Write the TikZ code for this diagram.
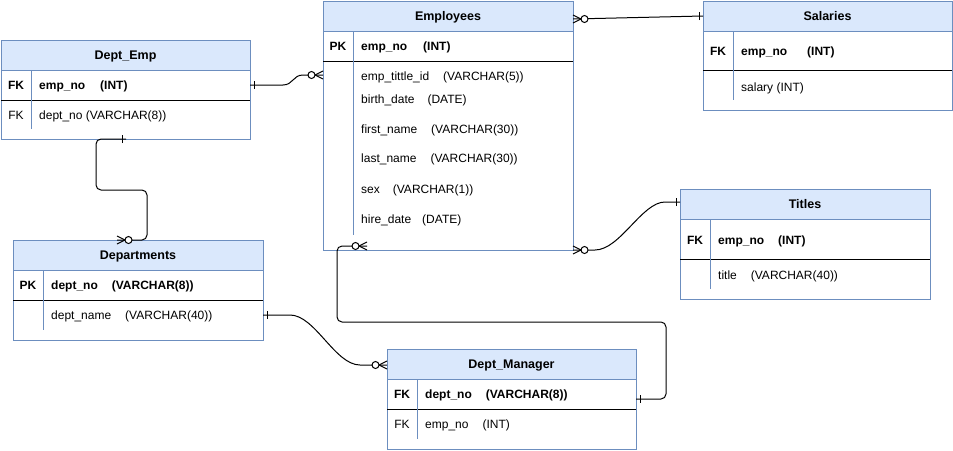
\documentclass[tikz,border=0pt]{standalone}
\usepackage{fontspec}
\setmainfont{Liberation Sans}
\usetikzlibrary{calc}
\definecolor{hdrfill}{HTML}{DAE8FC}
\definecolor{hdrline}{HTML}{6C8EBF}
\tikzset{
  tbl/.style={draw=hdrline, line width=1pt, fill=white, anchor=north west, inner sep=0pt, outer sep=0pt},
  hdr/.style={draw=hdrline, line width=1pt, fill=hdrfill, anchor=north west, inner sep=0pt, outer sep=0pt,
    minimum height=30pt, text height=9pt, text depth=0pt, font=\fontsize{12.5}{14}\selectfont\bfseries},
  sepline/.style={draw=black, line width=1pt},
  divline/.style={draw=hdrline, line width=1pt},
  fld/.style={anchor=west, inner sep=0pt, text height=8.6pt, text depth=0pt, font=\fontsize{12}{14}\selectfont},
  fldb/.style={fld, font=\fontsize{12}{14}\selectfont\bfseries},
  keyr/.style={anchor=center, inner sep=0pt, text height=8.6pt, text depth=0pt, font=\fontsize{12}{14}\selectfont},
  keyb/.style={keyr, font=\fontsize{12}{14}\selectfont\bfseries},
  conn/.style={draw=black, line width=1pt},
  crowfoot/.pic={
    \draw[line width=1pt] (0,4) -- (8,0) -- (0,-4);
    \draw[line width=1pt, fill=white] (11.5,0) circle[radius=3.5pt];
  },
  onebar/.pic={
    \draw[line width=1pt] (4,-4) -- (4,4);
  }
}
\begin{document}
\begin{tikzpicture}[x=1pt,y=-1pt]
\fill[white] (0,0) rectangle (953,450);
\useasboundingbox (0,0) rectangle (953,450);

% ---------- Employees ----------
\node[tbl, minimum width=250pt, minimum height=249pt] (emp) at (323,1) {};
\node[hdr, minimum width=250pt] (empH) at (323,1) {Employees};
\draw[sepline] (323,61) -- (573,61);
\draw[divline] (353,31) -- (353,235);
\node[keyb] (empK1) at (338,46) {PK};
\node[fldb] (empF1) at (361,46) {emp\_no\hspace{16pt}(INT)};
\node[fld] (empF2) at (361,76) {emp\_tittle\_id\hspace{14pt}(VARCHAR(5))};
\node[fld] (empF3) at (361,99) {birth\_date\hspace{13pt}(DATE)};
\node[fld] (empF4) at (361,129) {first\_name\hspace{14pt}(VARCHAR(30))};
\node[fld] (empF5) at (361,158) {last\_name\hspace{14pt}(VARCHAR(30))};
\node[fld] (empF6) at (361,189) {sex\hspace{13pt}(VARCHAR(1))};
\node[fld] (empF7) at (361,219) {hire\_date\hspace{11pt}(DATE)};

% ---------- Dept_Emp ----------
\node[tbl, minimum width=249pt, minimum height=99pt] (de) at (1,40) {};
\node[hdr, minimum width=249pt] (deH) at (1,40) {Dept\_Emp};
\draw[sepline] (1,100) -- (250,100);
\draw[divline] (31,70) -- (31,129);
\node[keyb] (deK1) at (16,85) {FK};
\node[fldb] (deF1) at (39,85) {emp\_no\hspace{15pt}(INT)};
\node[keyr] (deK2) at (16,115) {FK};
\node[fld] (deF2) at (39,115) {dept\_no (VARCHAR(8))};

% ---------- Salaries ----------
\node[tbl, minimum width=249pt, minimum height=109pt] (sal) at (703,1) {};
\node[hdr, minimum width=249pt] (salH) at (703,1) {Salaries};
\draw[sepline] (703,70) -- (952,70);
\draw[divline] (733,31) -- (733,100);
\node[keyb] (salK1) at (718,51) {FK};
\node[fldb] (salF1) at (741,51) {emp\_no\hspace{20pt}(INT)};
\node[fld] (salF2) at (741,87) {salary (INT)};

% ---------- Titles ----------
\node[tbl, minimum width=250pt, minimum height=110pt] (tit) at (680,189) {};
\node[hdr, minimum width=250pt] (titH) at (680,189) {Titles};
\draw[sepline] (680,259) -- (930,259);
\draw[divline] (710,219) -- (710,289);
\node[keyb] (titK1) at (695,240) {FK};
\node[fldb] (titF1) at (718,240) {emp\_no\hspace{14pt}(INT)};
\node[fld] (titF2) at (718,275) {title\hspace{14pt}(VARCHAR(40))};

% ---------- Departments ----------
\node[tbl, minimum width=250pt, minimum height=100pt] (dep) at (13,240) {};
\node[hdr, minimum width=250pt] (depH) at (13,240) {Departments};
\draw[sepline] (13,300) -- (263,300);
\draw[divline] (43,270) -- (43,330);
\node[keyb] (depK1) at (28,285) {PK};
\node[fldb] (depF1) at (51,285) {dept\_no\hspace{14pt}(VARCHAR(8))};
\node[fld] (depF2) at (51,315) {dept\_name\hspace{14pt}(VARCHAR(40))};

% ---------- Dept_Manager ----------
\node[tbl, minimum width=249pt, minimum height=100pt] (dm) at (387,349) {};
\node[hdr, minimum width=249pt] (dmH) at (387,349) {Dept\_Manager};
\draw[sepline] (387,409) -- (636,409);
\draw[divline] (417,379) -- (417,439);
\node[keyb] (dmK1) at (402,394.5) {FK};
\node[fldb] (dmF1) at (425,394.5) {dept\_no\hspace{14pt}(VARCHAR(8))};
\node[keyr] (dmK2) at (402,424) {FK};
\node[fld] (dmF2) at (425,424) {emp\_no\hspace{14pt}(INT)};

% ---------- connector end points ----------
\coordinate (empR1) at ($(emp.north east)+(0,18)$);
\coordinate (salL)  at ($(sal.north west)+(0,15)$);
\coordinate (deR)   at ($(de.north east)+(0,45)$);
\coordinate (empL)  at ($(emp.north west)+(0,74)$);
\coordinate (deB)   at ($(de.south west)+(125,0)$);
\coordinate (depT)  at ($(dep.north west)+(104,0)$);
\coordinate (empB)  at ($(emp.south west)+(44,-4)$);
\coordinate (dmR)   at ($(dm.north east)+(0,50)$);
\coordinate (empR2) at (emp.south east);
\coordinate (titL)  at ($(tit.north west)+(0,13)$);
\coordinate (depR)  at ($(dep.north east)+(0,75)$);
\coordinate (dmL)   at ($(dm.north west)+(0,16)$);

% ---------- connectors ----------
\draw[conn] (empR1) -- (salL);
\draw[conn] (deR) -- ++(33,0) .. controls +(10,0) and +(-10,0) .. ($(empL)+(-20,0)$) -- (empL);
\draw[conn, rounded corners=5pt] (deB) -| (96,190) -| (147,240) -- (depT);
\draw[conn, rounded corners=5pt] (empB) -| (337,322) -| ($(dmR)+(30,0)$) -- (dmR);
\draw[conn] (empR2) -- ++(22,0) .. controls +(25,0) and +(-23,0) .. ($(titL)+(-15,0)$) -- (titL);
\draw[conn] (depR) -- ++(27,0) .. controls +(25,0) and +(-25,0) .. ($(dmL)+(-27,0)$) -- (dmL);

% ---------- end marks ----------
\pic at (empR1) {crowfoot};
\pic at (empR2) {crowfoot};
\pic at (depT) {crowfoot};
\pic[rotate=180] at (empL) {crowfoot};
\pic[rotate=180] at (empB) {crowfoot};
\pic[rotate=180] at (dmL) {crowfoot};
\pic at (deR) {onebar};
\pic at (depR) {onebar};
\pic at (dmR) {onebar};
\pic[rotate=180] at (salL) {onebar};
\pic[rotate=180] at (titL) {onebar};
\pic[rotate=180] at (deB) {onebar};
\end{tikzpicture}
\end{document}
